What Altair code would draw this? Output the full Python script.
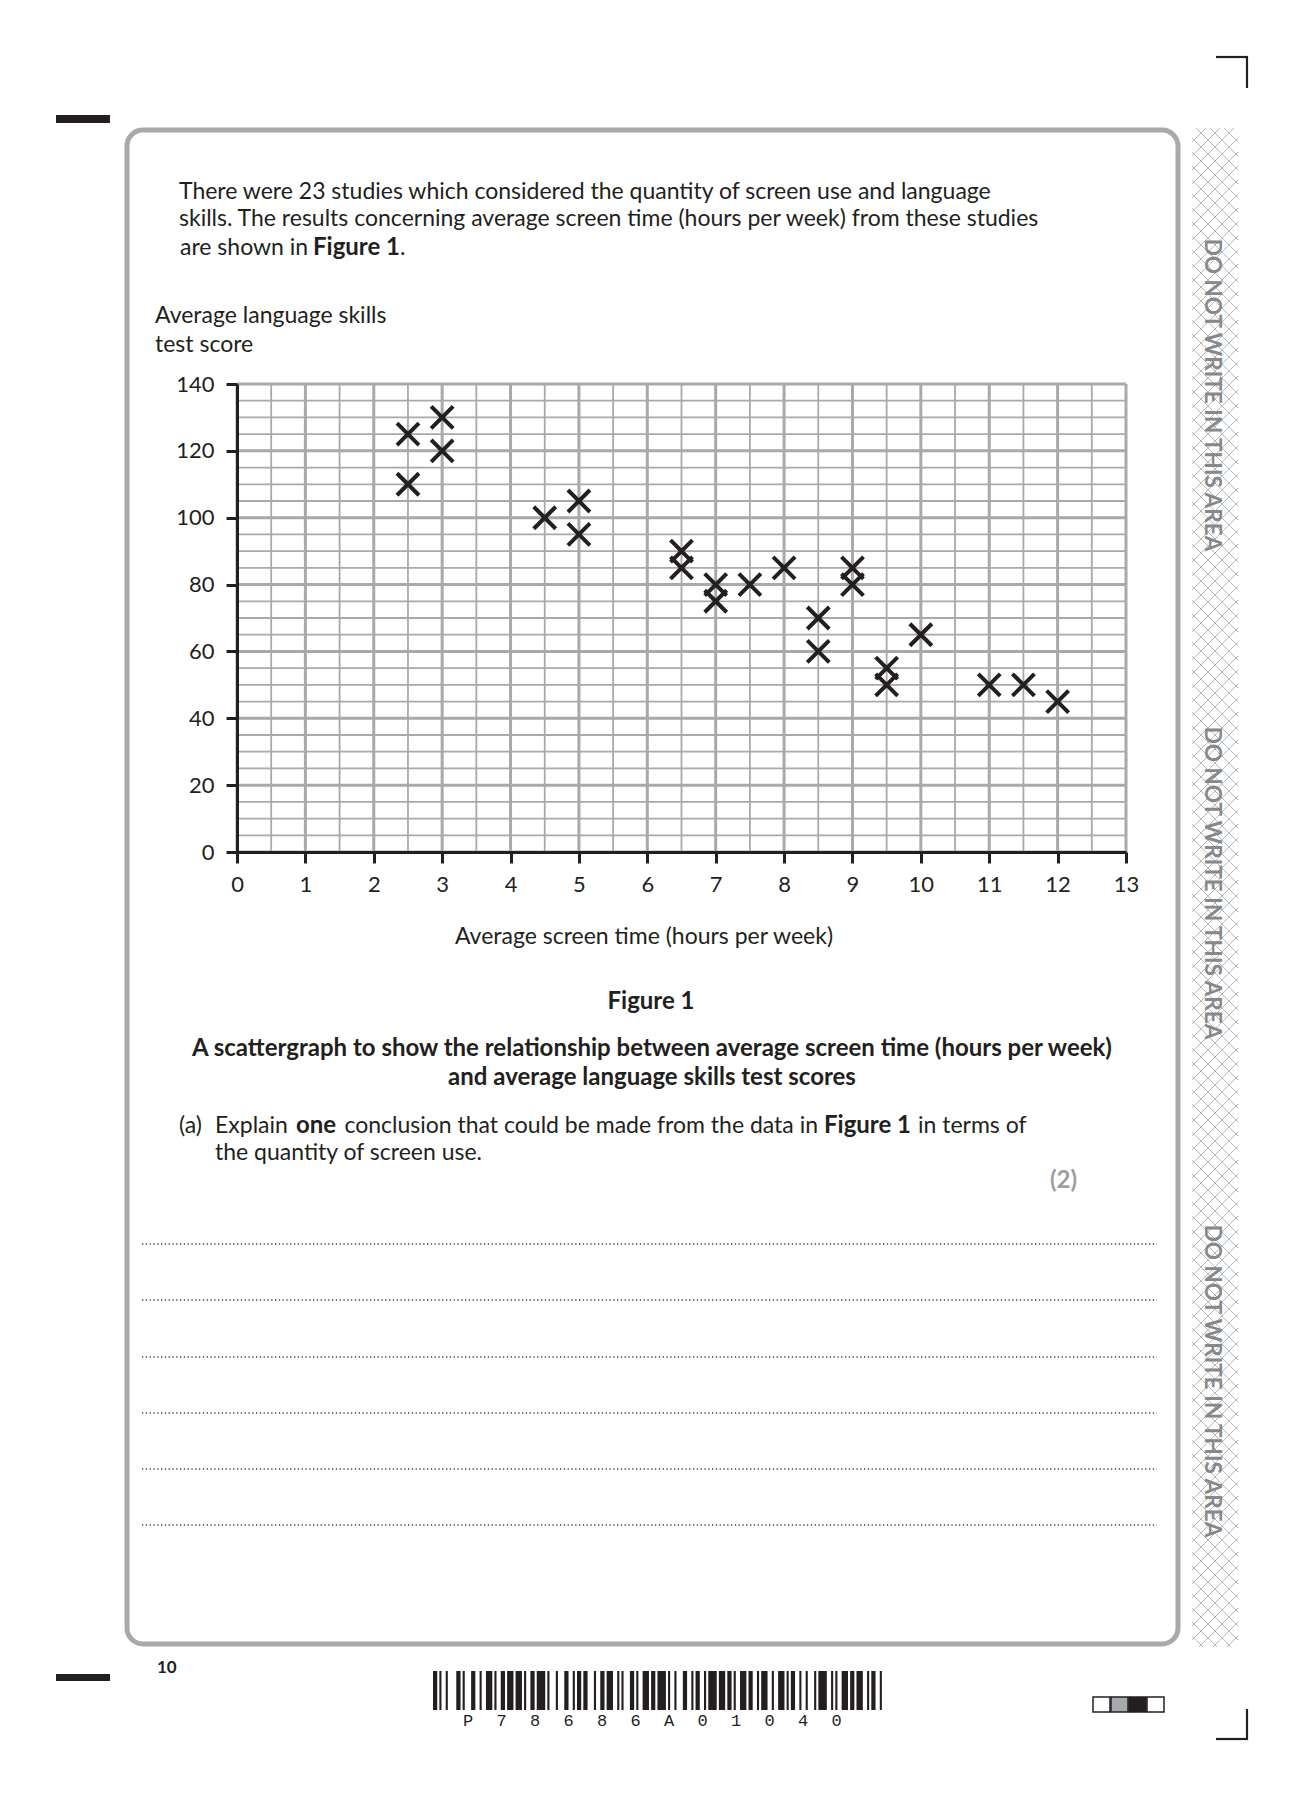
import altair as alt
import pandas as pd

# ---------------- data ----------------
screen_time = [2.5, 2.5, 3, 3, 4.5, 5, 5, 6.5, 6.5, 7, 7, 7.5, 8, 8.5, 8.5,
               9, 9, 9.5, 9.5, 10, 11, 11.5, 12]
test_score = [125, 110, 130, 120, 100, 105, 95, 90, 85, 80, 75, 80, 85, 70, 60,
              85, 80, 55, 50, 65, 50, 50, 45]
x_ticks = list(range(0, 14))
y_ticks = list(range(0, 141, 20))
x_grid_minor = [i * 0.5 for i in range(27)]
y_grid_minor = list(range(0, 141, 5))

# ---------------- page geometry ----------------
OX, OY = 237, 384          # page position of plot origin (x=0 at left, y=140 at top)
W, H = 889, 468
INK = "#231f20"
GRID = "#a7a9ac"
FONT = "Lato"
FS = 23      # body text size
FSB = 24     # bold text size


def px(v):
    return v - OX


def py(v):
    return v - OY


XS = alt.Scale(domain=[0, 13], nice=False, zero=False)
YS = alt.Scale(domain=[0, 140], nice=False, zero=False)


def tlayer(rows, **kw):
    df = pd.DataFrame([{"x": px(a), "y": py(b), "t": t} for (t, a, b) in rows])
    base = dict(font=FONT, fontSize=FS, color=INK, baseline="alphabetic", align="left")
    base.update(kw)
    return alt.Chart(df).mark_text(**base).encode(
        x=alt.X("x:Q", scale=None, axis=None),
        y=alt.Y("y:Q", scale=None, axis=None),
        text="t:N",
    )


def rect_layer(rows, fills=None, **kw):
    recs = []
    for i, (a, b, c, d) in enumerate(rows):
        r = {"x": px(a), "x2": px(b), "y": py(c), "y2": py(d)}
        if fills:
            r["f"] = fills[i]
        recs.append(r)
    df = pd.DataFrame(recs)
    enc = dict(
        x=alt.X("x:Q", scale=None, axis=None), x2="x2:Q",
        y=alt.Y("y:Q", scale=None, axis=None), y2="y2:Q",
    )
    if fills:
        enc["fill"] = alt.Fill("f:N", scale=None, legend=None)
    return alt.Chart(df).mark_rect(**kw).encode(**enc)


def seg_layer(rows, **kw):
    df = pd.DataFrame([{"x": px(a), "y": py(b), "x2": px(c), "y2": py(d)} for a, b, c, d in rows])
    return alt.Chart(df).mark_rule(**kw).encode(
        x=alt.X("x:Q", scale=None, axis=None), x2="x2:Q",
        y=alt.Y("y:Q", scale=None, axis=None), y2="y2:Q",
    )


layers = []

# ---------------- page frame ----------------
layers.append(rect_layer([(127, 1178, 130, 1644)], cornerRadius=16, fillOpacity=0,
                         stroke=GRID, strokeWidth=5))

# hatched side strip
SX0, SX1, SY0, SY1 = 1192, 1238, 128, 1647
S = 14
hatch = []
c = SY0 - SX1
while c <= SY1 - SX0:
    xa, xb = max(SX0, SY0 - c), min(SX1, SY1 - c)
    if xb > xa:
        hatch.append((xa, xa + c, xb, xb + c))
    c += S
c = SY0 + SX0
while c <= SY1 + SX1:
    xa, xb = max(SX0, c - SY1), min(SX1, c - SY0)
    if xb > xa:
        hatch.append((xa, c - xa, xb, c - xb))
    c += S
layers.append(seg_layer(hatch, color="#aeb0b2", strokeWidth=0.9))

layers.append(tlayer([("DO NOT WRITE IN THIS AREA", 1212, 395),
                      ("DO NOT WRITE IN THIS AREA", 1212, 883),
                      ("DO NOT WRITE IN THIS AREA", 1212, 1381)],
                     angle=90, align="center", baseline="middle", fontWeight="bold",
                     fontSize=22.5, color="#86888a"))

# corner marks and margin dashes
layers.append(seg_layer([(1216, 57, 1248, 57), (1247, 57, 1247, 88),
                         (1247, 1709, 1247, 1740), (1216, 1739, 1248, 1739)],
                        color=INK, strokeWidth=2.2))
layers.append(rect_layer([(56, 110, 115, 123), (56, 110, 1674, 1681)], color=INK))

# ---------------- grid (through the scales) ----------------
gx_minor = pd.DataFrame({"v": [v for v in x_grid_minor if v != int(v)]})
gx_major = pd.DataFrame({"v": x_ticks})
gy_minor = pd.DataFrame({"v": [v for v in y_grid_minor if v % 20 != 0]})
gy_major = pd.DataFrame({"v": y_ticks})
layers.append(alt.Chart(gx_minor).mark_rule(color=GRID, strokeWidth=1.8).encode(
    x=alt.X("v:Q", scale=XS, axis=None)))
layers.append(alt.Chart(gy_minor).mark_rule(color=GRID, strokeWidth=1.8).encode(
    y=alt.Y("v:Q", scale=YS, axis=None)))
layers.append(alt.Chart(gx_major).mark_rule(color=GRID, strokeWidth=3).encode(
    x=alt.X("v:Q", scale=XS, axis=None)))
layers.append(alt.Chart(gy_major).mark_rule(color=GRID, strokeWidth=3).encode(
    y=alt.Y("v:Q", scale=YS, axis=None)))

# ---------------- data points with axes ----------------
pts = pd.DataFrame({"x": screen_time, "y": test_score})
axis_common = dict(grid=False, domainColor=INK, domainWidth=3, tickColor=INK, tickWidth=3,
                   tickSize=11, labelFont=FONT, labelFontSize=22, labelColor=INK,
                   labelFlush=False, labelOverlap=False, title=None, zindex=1)
layers.append(alt.Chart(pts).mark_point(
    shape="M-1,-1L1,1M-1,1L1,-1", filled=False, size=484, strokeWidth=4,
    color=INK, opacity=1).encode(
    x=alt.X("x:Q", scale=XS, axis=alt.Axis(values=x_ticks, labelPadding=11, **axis_common)),
    y=alt.Y("y:Q", scale=YS, axis=alt.Axis(values=y_ticks, labelPadding=12, **axis_common)),
))

# ---------------- texts ----------------
layers.append(tlayer([
    ("There were 23 studies which considered the quantity of screen use and language", 179, 199),
    ("skills. The results concerning average screen time (hours per week) from these studies", 179, 226),
    ("are shown in", 180, 255),
    (".", 400, 255),
    ("Average language skills", 155, 323),
    ("test score", 155, 352),
    ("(a)", 179, 1133),
    ("Explain", 215, 1133),
    ("in terms of", 918, 1133),
    ("the quantity of screen use.", 215, 1160),
]))
layers.append(tlayer([
    ("conclusion that could be made from the data in", 818, 1133),
], align="right"))
layers.append(tlayer([
    ("Figure 1", 313, 255),
    ("one", 296, 1133),
    ("Figure 1", 824, 1133),
], fontWeight="bold", fontSize=FSB))
layers.append(tlayer([
    ("Average screen time (hours per week)", 644, 944),
], align="center"))
layers.append(tlayer([
    ("Figure 1", 651, 1009),
    ("A scattergraph to show the relationship between average screen time (hours per week)", 652, 1056),
    ("and average language skills test scores", 652, 1085),
], align="center", fontWeight="bold", fontSize=FSB))
layers.append(tlayer([("(2)", 1077, 1188)], align="right", fontWeight="bold", color="#9c9ea1",
                     fontSize=FSB))
layers.append(tlayer([("10", 157, 1673)], fontWeight="bold", fontSize=17))

# answer lines
layers.append(seg_layer([(142, yv, 1157, yv) for yv in [1244, 1300, 1357, 1413, 1469, 1525]],
                        color="#444444", strokeWidth=1.3, strokeDash=[1.3, 2.5]))

# ---------------- barcode & footer ----------------
pattern = ("2112142113221231122131311221411313221121231221321113211231214112"
           "1322112211413121123122113212311122121311421112312132112211")
mods = [int(ch) for ch in pattern]
total = sum(mods)
BX0, BX1 = 433, 884
unit = (BX1 - BX0) / total
bars = []
pos = BX0
for i, m in enumerate(mods):
    w = m * unit
    if i % 2 == 0:
        bars.append((pos, pos + w, 1671, 1710))
    pos += w
layers.append(rect_layer(bars, color=INK))
code_chars = ["P", "7", "8", "6", "8", "6", "A", "0", "1", "0", "4", "0"]
layers.append(tlayer([(ch, 468 + i * 33.5, 1726) for i, ch in enumerate(code_chars)],
                     align="center", font="Liberation Mono", fontSize=17))

layers.append(rect_layer([(1093, 1110, 1697, 1712), (1111, 1128, 1697, 1712),
                          (1129, 1146, 1697, 1712), (1147, 1164, 1697, 1712)],
                         fills=["#ffffff", "#a7a9ac", INK, "#ffffff"],
                         stroke=INK, strokeWidth=1.5))

chart = alt.layer(*layers).properties(
    width=W, height=H,
    padding={"left": OX - 8, "top": OY - 8, "right": 1270 - (OX - 8) - W,
             "bottom": 1760 - (OY - 8) - H},
    autosize=alt.AutoSizeParams(type="none"),
).resolve_scale(x="independent", y="independent").configure_view(strokeWidth=0).configure(font=FONT)

chart.save("out.html", embed_options={"renderer": "svg", "actions": False})
